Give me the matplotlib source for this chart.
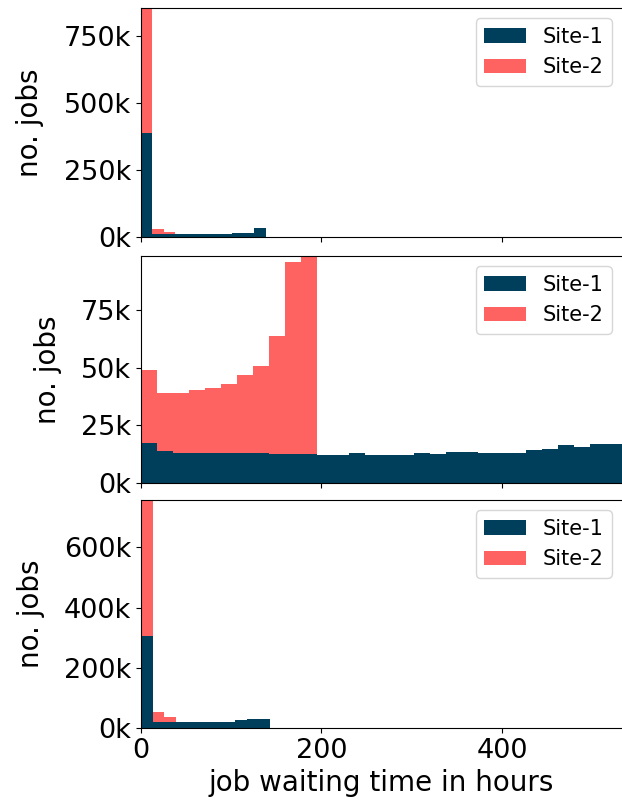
import numpy as np
import matplotlib
matplotlib.use("Agg")
import matplotlib.pyplot as plt
from matplotlib.ticker import FuncFormatter, MultipleLocator

# ---- data (counts per bin) ----
labels = ["Site-1", "Site-2"]
colors = ["#003f5c", "#ff6361"]

# top panel: 11 bins from 0 to ~138 h
top_max_h = 138
top_site1 = [388e3, 10e3, 10e3, 10e3, 10e3, 10e3, 10e3, 10e3, 14e3, 14e3, 32e3]
top_site2 = [467e3, 21e3, 10e3, 0, 0, 0, 0, 0, 0, 0, 0]

# middle panel: 30 bins from 0 to ~533 h
mid_max_h = 533
mid_site1 = [17.5e3, 13.8e3, 13.1e3, 12.9e3, 12.9e3, 12.9e3, 12.9e3, 12.9e3, 12.5e3, 12.5e3,
             12.5e3, 12.2e3, 12.2e3, 12.9e3, 12.2e3, 12.2e3, 12.2e3, 12.9e3, 12.5e3, 13.5e3,
             13.5e3, 12.9e3, 12.9e3, 12.9e3, 14.2e3, 14.9e3, 16.4e3, 15.4e3, 16.8e3, 16.8e3]
mid_total = [49.1e3, 39.1e3, 39.1e3, 40.5e3, 41.2e3, 43.1e3, 47.0e3, 50.9e3, 63.9e3, 95.8e3, 98.4e3]
mid_site2 = [t - s for t, s in zip(mid_total, mid_site1[:len(mid_total)])] + [0] * (30 - len(mid_total))

# bottom panel: 11 bins from 0 to ~143 h
bot_max_h = 143
bot_site1 = [304e3, 18.8e3, 18.8e3, 18.8e3, 18.8e3, 18.8e3, 18.8e3, 18.8e3, 25e3, 31e3, 31e3]
bot_site2 = [453e3, 33e3, 17.7e3, 0, 0, 0, 0, 0, 0, 0, 0]

xticks = [0, 200, 400]
xlabel = "job waiting time in hours"
ylabel = "no. jobs"

panels = [
    (top_max_h, top_site1, top_site2, 250e3),
    (mid_max_h, mid_site1, mid_site2, 25e3),
    (bot_max_h, bot_site1, bot_site2, 200e3),
]

W, H = 622, 809
fig = plt.figure(figsize=(W / 100, H / 100), dpi=100)
boxes = [(8, 237), (256, 483), (500, 728)]  # top, bottom in px
left_px, right_px = 141, 622

kfmt = FuncFormatter(lambda v, p: f"{v/1000:.0f}k")
axes = []
for (ytop, ybot), (xmax, s1, s2, ystep) in zip(boxes, panels):
    ax = fig.add_axes([left_px / W, (H - ybot) / H, (right_px - left_px) / W, (ybot - ytop) / H])
    n = len(s1)
    edges = np.linspace(0, xmax, n + 1)
    centers = (edges[:-1] + edges[1:]) / 2
    ax.hist([centers, centers], bins=edges, weights=[s1, s2], stacked=True,
            color=colors, label=labels, histtype="bar", rwidth=1.0)
    tot = np.array(s1) + np.array(s2)
    ax.set_ylim(0, tot.max())
    ax.set_xlim(0, mid_max_h)
    ax.yaxis.set_major_locator(MultipleLocator(ystep))
    ax.yaxis.set_major_formatter(kfmt)
    ax.set_xticks(xticks)
    ax.spines["right"].set_visible(False)
    ax.tick_params(labelsize=19.5)
    ax.set_ylabel(ylabel, fontsize=20, labelpad=14)
    ax.legend(loc="upper right", fontsize=15)
    axes.append(ax)

for ax in axes[:-1]:
    ax.tick_params(labelbottom=False)
axes[-1].set_xlabel(xlabel, fontsize=20)

fig.savefig("out.png", dpi=100)
